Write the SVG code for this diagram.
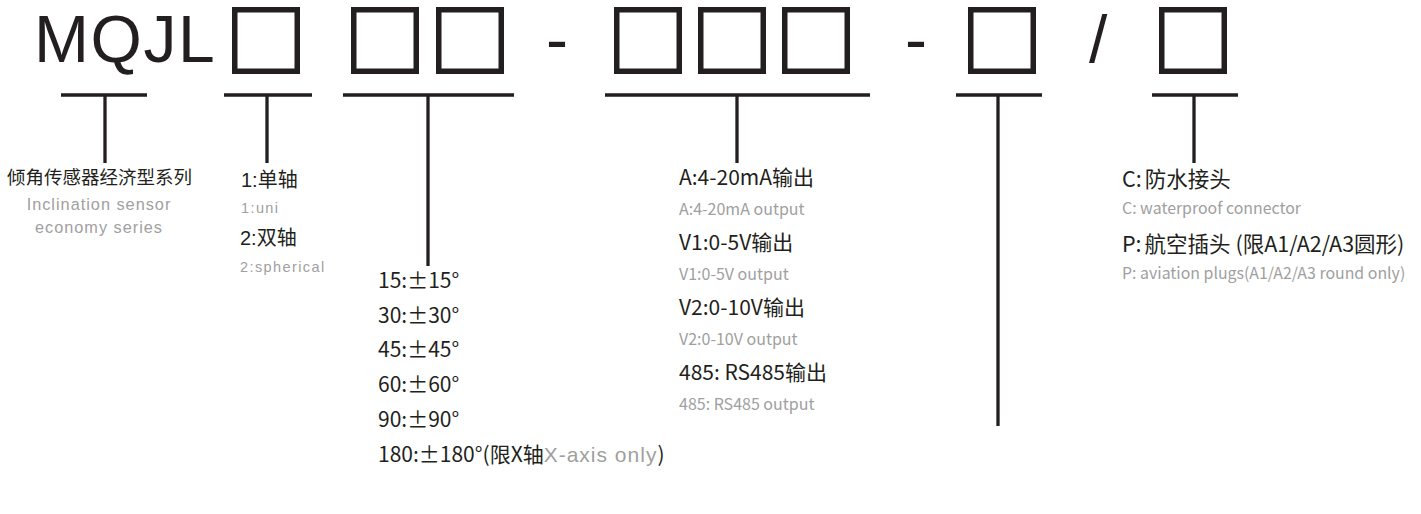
<svg xmlns="http://www.w3.org/2000/svg" width="1421" height="514" viewBox="0 0 1421 514">
<style>
.bx{fill:none;stroke:#231f20;stroke-width:5.5}
.ln{stroke:#231f20;stroke-width:3.3;fill:none}
.big{font-family:"Liberation Sans",Arial,sans-serif;font-size:66px;fill:#231f20}
.cn{font-family:"Noto Sans CJK SC",sans-serif;fill:#231f20}
.ar{font-family:"Liberation Sans","Noto Sans CJK SC",sans-serif;fill:#231f20}
.gr{fill:#a0a0a0}
.m{font-size:21px}
.s{font-size:16px}
</style>
<rect width="1421" height="514" fill="#ffffff"/>
<g id="code">
<text class="big" x="34" y="62" letter-spacing="1.6">MQJL</text>
<rect class="bx" x="234.75" y="9.75" width="62.5" height="61.5"/>
<rect class="bx" x="353.75" y="9.75" width="62.5" height="61.5"/>
<rect class="bx" x="438.75" y="9.75" width="62.5" height="61.5"/>
<text class="big" x="546" y="62">-</text>
<rect class="bx" x="616.75" y="9.75" width="62.5" height="61.5"/>
<rect class="bx" x="700.75" y="9.75" width="62.5" height="61.5"/>
<rect class="bx" x="784.75" y="9.75" width="62.5" height="61.5"/>
<text class="big" x="905" y="62">-</text>
<rect class="bx" x="970.75" y="9.75" width="62.5" height="61.5"/>
<text class="big" x="1089" y="62">/</text>
<rect class="bx" x="1161.75" y="9.75" width="62.5" height="61.5"/>
</g>
<g id="connectors">
<path class="ln" d="M61 95H147M105 95V163"/>
<path class="ln" d="M224 95H312M267 95V163"/>
<path class="ln" d="M343 95H514M428 95V266"/>
<path class="ln" d="M605 95H870M737 95V163"/>
<path class="ln" d="M956 95H1042M998 95V426"/>
<path class="ln" d="M1152 95H1238M1194 95V163"/>
</g>
<g id="series">
<text class="cn" x="7" y="184" font-size="18.5">倾角传感器经济型系列</text>
<text class="ar gr" x="99" y="210" font-size="16.3" letter-spacing="1" text-anchor="middle">Inclination sensor</text>
<text class="ar gr" x="99" y="233" font-size="16.3" letter-spacing="1" text-anchor="middle">economy series</text>
</g>
<g id="axis">
<text class="ar" x="241" y="187" font-size="20">1:单轴</text>
<text class="ar gr" x="241" y="213" font-size="14.5" letter-spacing="1.4">1:uni</text>
<text class="ar" x="240" y="245" font-size="20">2:双轴</text>
<text class="ar gr" x="240" y="272" font-size="14.5" letter-spacing="1.4">2:spherical</text>
</g>
<g id="range">
<text class="cn" x="378" y="288" font-size="21">15:±15°</text>
<text class="cn" x="378" y="323" font-size="21">30:±30°</text>
<text class="cn" x="378" y="357" font-size="21">45:±45°</text>
<text class="cn" x="378" y="392" font-size="21">60:±60°</text>
<text class="cn" x="378" y="427" font-size="21">90:±90°</text>
<text class="cn" x="378" y="462" font-size="21">180:±180°(限X轴<tspan class="gr" font-family="Liberation Sans, sans-serif" letter-spacing="1">X-axis only</tspan>)</text>
</g>
<g id="output">
<text class="cn m" x="679" y="185">A:4-20mA输出</text>
<text class="cn gr s" x="679" y="215">A:4-20mA output</text>
<text class="cn m" x="679" y="250">V1:0-5V输出</text>
<text class="cn gr s" x="679" y="280">V1:0-5V output</text>
<text class="cn m" x="679" y="315">V2:0-10V输出</text>
<text class="cn gr s" x="679" y="345">V2:0-10V output</text>
<text class="cn m" x="679" y="380">485: RS485输出</text>
<text class="cn gr s" x="679" y="410">485: RS485 output</text>
</g>
<g id="connector-type">
<text class="cn" x="1122" y="187" font-size="21.5">C:<tspan dx="3">防水接头</tspan></text>
<text class="cn gr" x="1122" y="214" font-size="15.9">C: waterproof connector</text>
<text class="cn" x="1122" y="252" font-size="21.5">P:<tspan dx="3">航空插头 (限A1/A2/A3圆形)</tspan></text>
<text class="cn gr" x="1122" y="279" font-size="15.9">P: aviation plugs(A1/A2/A3 round only)</text>
</g>
</svg>
